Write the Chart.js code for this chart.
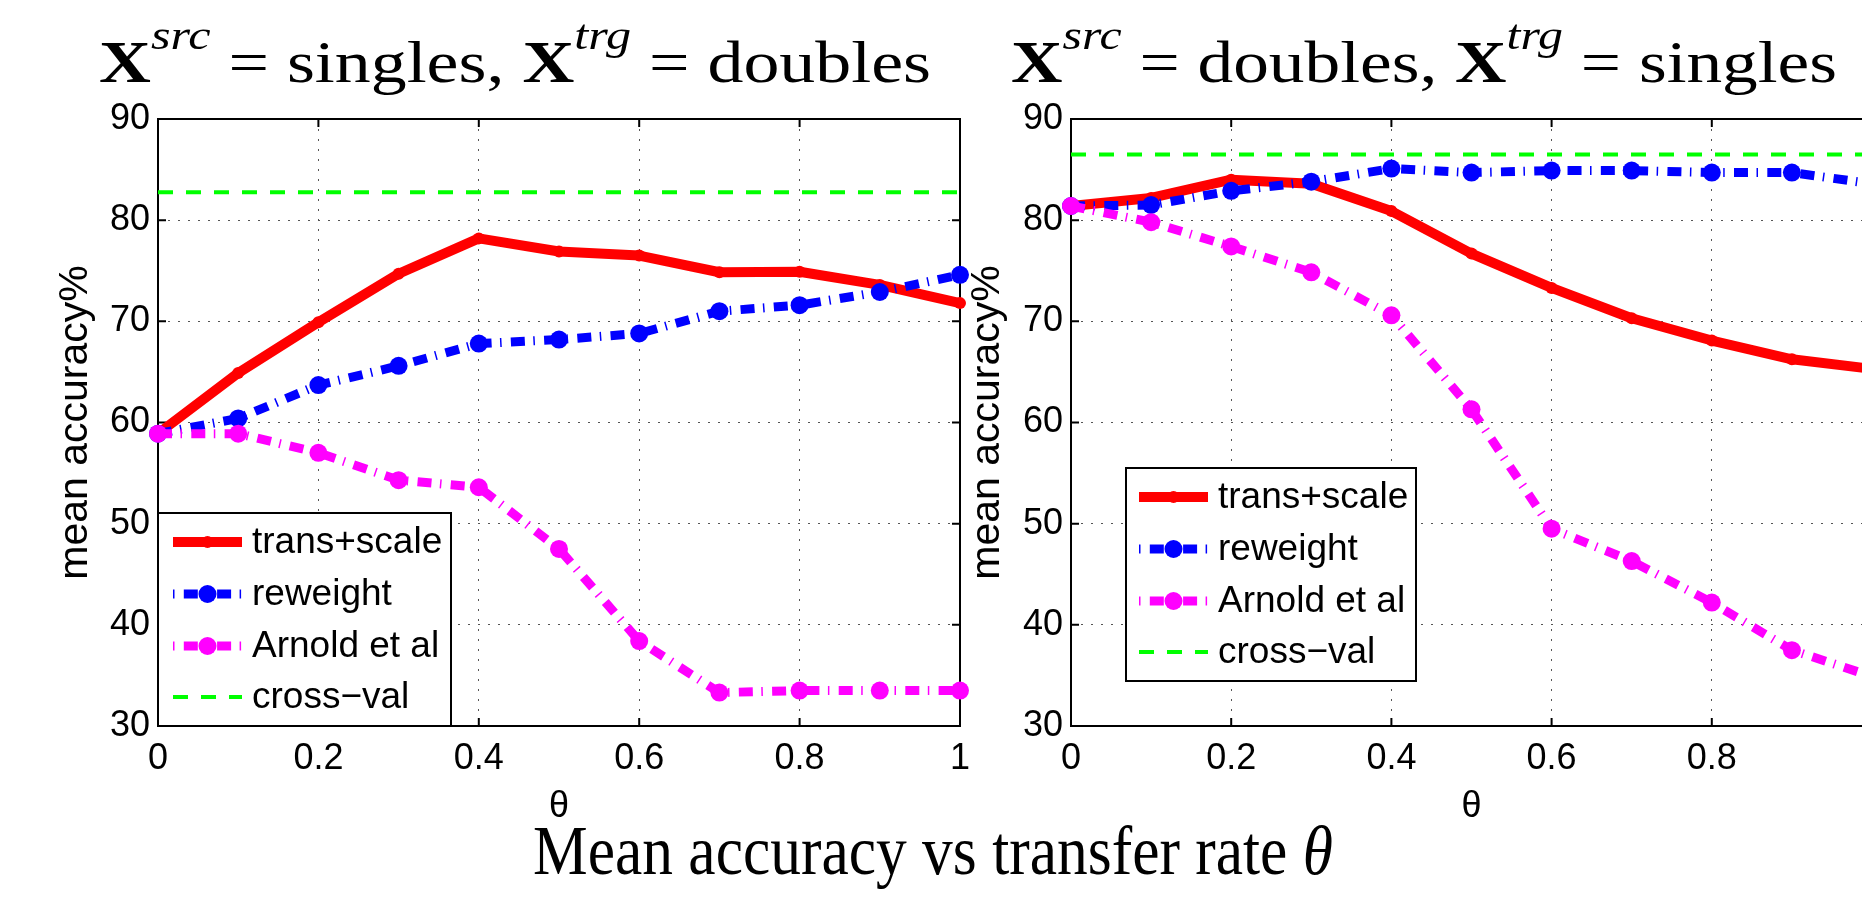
<!DOCTYPE html>
<html>
<head>
<meta charset="utf-8">
<script src="https://cdn.jsdelivr.net/npm/chart.js@4.4.1/dist/chart.umd.min.js"></script>
<style>
html, body { margin: 0; padding: 0; width: 1862px; height: 907px; overflow: hidden; background: #fff; }
canvas { position: absolute; top: 0; }
#c1 { left: 0; }
#c2 { left: 900px; }
.ttl { position: absolute; font-family: "Liberation Serif", serif; white-space: nowrap; line-height: 1; color: #000; transform-origin: 0 0; }
.ttl b { font-weight: bold; }
.ttl sup { font-style: italic; font-size: 0.7em; vertical-align: baseline; position: relative; top: -0.8em; }
.ttl i { font-style: italic; }
</style>
</head>
<body>
<canvas id="c1" width="990" height="907"></canvas>
<canvas id="c2" width="1000" height="907"></canvas>
<div class="ttl" id="t1"><b>X</b><sup>src</sup> = singles, <b>X</b><sup>trg</sup> = doubles</div>
<div class="ttl" id="t2"><b>X</b><sup>src</sup> = doubles, <b>X</b><sup>trg</sup> = singles</div>
<div class="ttl" id="t3">Mean accuracy vs transfer rate <i>θ</i></div>
<script>
// ---------- data ----------
const thetas = [0, 0.1, 0.2, 0.3, 0.4, 0.5, 0.6, 0.7, 0.8, 0.9, 1.0];
const seriesNames = ['trans+scale', 'reweight', 'Arnold et al', 'cross\u2212val'];

// left panel: X^src = singles, X^trg = doubles
const transScaleLeft = [58.9, 64.9, 69.9, 74.7, 78.2, 76.9, 76.5, 74.85, 74.9, 73.6, 71.8];
const reweightLeft   = [58.9, 60.4, 63.7, 65.6, 67.8, 68.2, 68.8, 71.0, 71.6, 72.9, 74.6];
const arnoldLeft     = [58.9, 58.9, 57.0, 54.3, 53.6, 47.5, 38.4, 33.3, 33.5, 33.5, 33.5];
const crossValLeft   = 82.75;

// right panel: X^src = doubles, X^trg = singles
const transScaleRight = [81.4, 82.2, 84.0, 83.6, 80.9, 76.7, 73.3, 70.3, 68.1, 66.25, 65.3];
const reweightRight   = [81.4, 81.5, 82.9, 83.8, 85.1, 84.7, 84.9, 84.9, 84.7, 84.7, 83.6];
const arnoldRight     = [81.4, 79.8, 77.4, 74.85, 70.6, 61.3, 49.5, 46.3, 42.2, 37.5, 34.9];
const crossValRight   = 86.5;

const xTickValues = [0, 0.2, 0.4, 0.6, 0.8, 1];
const xTickLabels = ['0', '0.2', '0.4', '0.6', '0.8', '1'];
const yTickValues = [30, 40, 50, 60, 70, 80, 90];
const yTickLabels = ['30', '40', '50', '60', '70', '80', '90'];
const xAxisTitle = 'θ';
const yAxisTitle = 'mean accuracy%';

// ---------- styles ----------
Chart.defaults.font.family = '"Liberation Sans", Arial, sans-serif';
Chart.defaults.color = '#000';

const dashDot = [14, 8.5, 1.5, 9.3];

function makeDatasets(ts, rw, ar, cv) {
  const pts = arr => thetas.map((t, i) => ({x: t, y: arr[i]}));
  return [
    { label: seriesNames[0], data: pts(ts), borderColor: '#ff0000', backgroundColor: '#ff0000',
      borderWidth: 10, pointRadius: 6, pointBackgroundColor: '#ff0000', pointBorderWidth: 0,
      order: 3, borderJoinStyle: 'round' },
    { label: seriesNames[1], data: pts(rw), borderColor: '#0000ff', backgroundColor: '#0000ff',
      borderWidth: 9, borderDash: dashDot, pointRadius: 9, pointBackgroundColor: '#0000ff', pointBorderWidth: 0,
      order: 2, borderJoinStyle: 'round' },
    { label: seriesNames[2], data: pts(ar), borderColor: '#ff00ff', backgroundColor: '#ff00ff',
      borderWidth: 9, borderDash: dashDot, pointRadius: 9, pointBackgroundColor: '#ff00ff', pointBorderWidth: 0,
      order: 1, borderJoinStyle: 'round' },
    { label: seriesNames[3], data: thetas.map(t => ({x: t, y: cv})), borderColor: '#00ff00', backgroundColor: '#00ff00',
      borderWidth: 4, borderDash: [15, 13], pointRadius: 0, order: 0 }
  ];
}

const framePlugin = {
  id: 'frame',
  beforeDatasetsDraw(chart) {
    const {ctx, chartArea: a, scales: {x, y}} = chart;
    ctx.save();
    ctx.strokeStyle = '#000';
    ctx.lineWidth = 2;
    ctx.setLineDash([]);
    ctx.strokeRect(a.left, a.top, a.right - a.left, a.bottom - a.top);
    const L = 8;
    ctx.beginPath();
    x.ticks.forEach(t => {
      const px = x.getPixelForValue(t.value);
      ctx.moveTo(px, a.bottom); ctx.lineTo(px, a.bottom - L);
      ctx.moveTo(px, a.top); ctx.lineTo(px, a.top + L);
    });
    y.ticks.forEach(t => {
      const py = y.getPixelForValue(t.value);
      ctx.moveTo(a.left, py); ctx.lineTo(a.left + L, py);
      ctx.moveTo(a.right, py); ctx.lineTo(a.right - L, py);
    });
    ctx.stroke();
    ctx.restore();
  }
};

const boxLegendPlugin = {
  id: 'boxLegend',
  afterDraw(chart, args, o) {
    const {ctx, chartArea: a} = chart;
    const x0 = a.left + o.dx, y1 = a.bottom - o.dy, y0 = y1 - o.h;
    ctx.save();
    ctx.fillStyle = '#fff';
    ctx.fillRect(x0, y0, o.w, o.h);
    ctx.strokeStyle = '#000';
    ctx.lineWidth = 2;
    ctx.setLineDash([]);
    ctx.strokeRect(x0, y0, o.w, o.h);
    chart.data.datasets.forEach((ds, i) => {
      const cy = y0 + o.rows[i];
      const lx0 = x0 + o.lineX0, lx1 = x0 + o.lineX1;
      ctx.strokeStyle = ds.borderColor;
      ctx.lineWidth = ds.borderWidth;
      const dash = ds.borderDash || [];
      ctx.setLineDash(dash);
      ctx.lineDashOffset = dash.length === 4 ? dash[0] + dash[1] : 0;
      ctx.lineCap = 'butt';
      ctx.beginPath();
      ctx.moveTo(lx0, cy); ctx.lineTo(lx1, cy);
      ctx.stroke();
      ctx.setLineDash([]);
      if (ds.pointRadius > 0) {
        ctx.fillStyle = ds.pointBackgroundColor;
        ctx.beginPath();
        ctx.arc((lx0 + lx1) / 2, cy, ds.pointRadius, 0, Math.PI * 2);
        ctx.fill();
      }
      ctx.fillStyle = '#000';
      ctx.font = '37px "Liberation Sans", Arial, sans-serif';
      ctx.textBaseline = 'middle';
      ctx.textAlign = 'left';
      ctx.fillText(ds.label, x0 + o.textX, cy + 1);
    });
    ctx.restore();
  }
};

function makeConfig(datasets, yAxisWidth, yTitlePad, legendOpts, padRight) {
  return {
    type: 'line',
    data: { datasets },
    options: {
      responsive: false,
      animation: false,
      events: [],
      clip: false,
      layout: { padding: { top: 119, bottom: 71, left: 0, right: padRight } },
      plugins: {
        legend: { display: false },
        tooltip: { enabled: false },
        title: { display: false },
        boxLegend: legendOpts
      },
      scales: {
        x: {
          type: 'linear', min: 0, max: 1,
          afterBuildTicks: s => { s.ticks = xTickValues.map(v => ({value: v})); },
          ticks: { font: { size: 36 }, padding: 11, maxRotation: 0,
                   callback: (v, i) => xTickLabels[i] },
          grid: { color: '#555', lineWidth: 1, drawTicks: false },
          border: { display: false, dash: [2, 8] },
          title: { display: true, text: xAxisTitle, font: { size: 36 }, padding: { top: 0, bottom: 7 } },
          afterFit: s => { s.height = 110; }
        },
        y: {
          type: 'linear', min: 30, max: 90,
          afterBuildTicks: s => { s.ticks = yTickValues.map(v => ({value: v})); },
          ticks: { font: { size: 36 }, padding: 8,
                   callback: (v, i) => yTickLabels[i] },
          grid: { color: '#555', lineWidth: 1, drawTicks: false },
          border: { display: false, dash: [2, 8] },
          title: { display: true, text: yAxisTitle, font: { size: 41 }, padding: { top: yTitlePad, bottom: 0 } },
          afterFit: s => { s.width = yAxisWidth; }
        }
      }
    },
    plugins: [framePlugin, boxLegendPlugin]
  };
}

const legendRows = [29, 81, 133, 184];

new Chart(document.getElementById('c1'), makeConfig(
  makeDatasets(transScaleLeft, reweightLeft, arnoldLeft, crossValLeft),
  158, 51,
  { dx: 0, dy: 0, w: 293, h: 213, rows: legendRows, lineX0: 15, lineX1: 84, textX: 94 },
  30));

new Chart(document.getElementById('c2'), makeConfig(
  makeDatasets(transScaleRight, reweightRight, arnoldRight, crossValRight),
  171, 63,
  { dx: 55, dy: 45, w: 290, h: 213, rows: legendRows, lineX0: 13, lineX1: 82, textX: 92 },
  28));

// ---------- titles ----------
function placeTitle(id, fontSize, left, width, baseline) {
  const el = document.getElementById(id);
  el.style.fontSize = fontSize + 'px';
  el.style.left = left + 'px';
  el.style.top = (baseline - 0.8375 * fontSize) + 'px';
  const w = el.getBoundingClientRect().width;
  el.style.transform = 'scaleX(' + (width / w) + ')';
}
placeTitle('t1', 59, 99, 832, 82);
placeTitle('t2', 59, 1011, 826, 82);
placeTitle('t3', 69, 533, 800, 875);
</script>
</body>
</html>
